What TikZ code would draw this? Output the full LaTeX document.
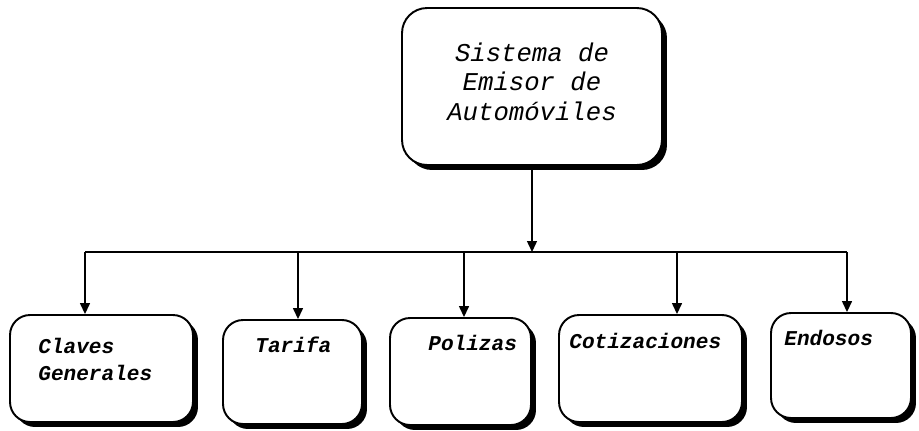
\documentclass[tikz,border=0pt]{standalone}
\usepackage{fontspec}
\usepackage{tikz}
\usetikzlibrary{positioning,arrows.meta,shadows}
\newfontfamily\cour{Liberation Mono}

\begin{document}
\begin{tikzpicture}[x=0.02cm,y=-0.02cm,
    modbox/.style={rectangle,draw,line width=1.1pt,rounded corners=0.4cm,fill=white,
                   drop shadow={shadow xshift=0.1cm,shadow yshift=-0.1cm,fill=black,opacity=1}},
    toptext/.style={font=\cour\itshape\fontsize{14.6}{16.8}\selectfont,align=center},
    modtext/.style={font=\cour\bfseries\itshape\fontsize{12}{15}\selectfont,align=left,anchor=base west,inner sep=0pt},
    arrow/.style={-{Triangle[length=2.2mm,width=2mm]},line width=0.8pt}
]
\useasboundingbox (0,0) rectangle (919,430);

\node[modbox,rounded corners=0.5cm,minimum width=5.2cm,minimum height=3.14cm,toptext] (sistema) at (532,86.5)
    {Sistema de\\ Emisor de\\Automóviles\\[-11pt]};

\node[modbox,minimum width=3.66cm,minimum height=2.14cm] (claves) at (101.5,368.5) {};
\node[modbox,minimum width=2.78cm,minimum height=2.08cm] (tarifa) at (292.5,372) {};
\node[modbox,minimum width=2.82cm,minimum height=2.14cm] (polizas) at (460.5,371.5) {};
\node[modbox,minimum width=3.66cm,minimum height=2.14cm] (cotiz) at (650.5,368.5) {};
\node[modbox,minimum width=2.80cm,minimum height=2.10cm] (endosos) at (841,365.5) {};

\node[modtext] (clavestxt) at (38,380) {Claves\\Generales};
\node[modtext] (tarifatxt) at (255,352) {Tarifa};
\node[modtext] (polizastxt) at (428,350) {Polizas};
\node[modtext] (cotiztxt) at (569,348) {Cotizaciones};
\node[modtext] (endosostxt) at (784,345) {Endosos};

\coordinate (bclaves) at (85,252);
\coordinate (btarifa) at (298,252);
\coordinate (bpolizas) at (464,252);
\coordinate (bcotiz) at (677,252);
\coordinate (bendosos) at (847,252);

\draw[line width=0.8pt] (bclaves) -- (bendosos);
\draw[arrow] (sistema.south) -- (sistema.south |- bclaves);
\draw[arrow] (bclaves) -- (bclaves |- claves.north);
\draw[arrow] (btarifa) -- (btarifa |- tarifa.north);
\draw[arrow] (bpolizas) -- (bpolizas |- polizas.north);
\draw[arrow] (bcotiz) -- (bcotiz |- cotiz.north);
\draw[arrow] (bendosos) -- (bendosos |- endosos.north);
\end{tikzpicture}
\end{document}
